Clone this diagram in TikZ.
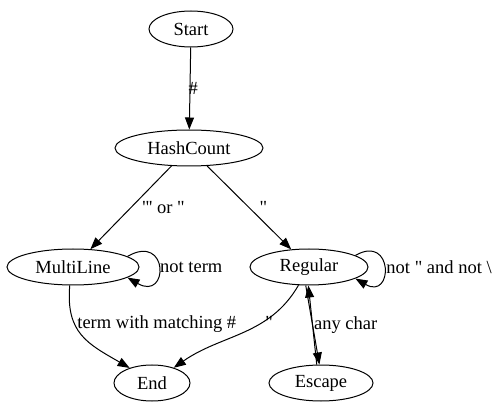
\documentclass[tikz,border=0pt]{standalone}
\usepackage{fontspec}
\setmainfont{Liberation Serif}
\usetikzlibrary{shapes.geometric, arrows.meta, positioning}
\tikzset{
  fsmnode/.style={ellipse, draw, line width=1pt, minimum height=36pt,
    inner sep=0pt, font=\fontsize{18.5}{22}\selectfont},
  arrow/.style={-{Triangle[length=12pt,width=9pt]}, line width=1pt},
  lbl/.style={font=\fontsize{18.5}{22}\selectfont, inner sep=1pt}
}

\begin{document}
\begin{tikzpicture}[x=1pt, y=1pt]
  \useasboundingbox (0,0) rectangle (496,413);
  \node[fsmnode, minimum width=84pt] (start) at (191,384) {Start};
  \node[fsmnode, minimum width=148pt] (hash) at (189,265) {HashCount};
  \node[fsmnode, minimum width=132pt] (multi) at (73,146) {MultiLine};
  \node[fsmnode, minimum width=118pt] (regular) at (309,146) {Regular};
  \node[fsmnode, minimum width=76pt] (end) at (152,30) {End};
  \node[fsmnode, minimum width=104pt] (escape) at (321,30) {Escape};

  \draw[arrow] (start) -- node[lbl, right, xshift=-3pt] {\#} (hash);
  \draw[arrow] (hash) -- node[lbl, right=10pt] {\textquotesingle\textquotesingle\textquotesingle{} or \textquotedbl} (multi);
  \draw[arrow] (hash) -- node[lbl, right=9pt] {\textquotedbl} (regular);

  \draw[arrow] (multi.11) to[out=30, in=-30, min distance=48pt] node[lbl, right] {not term} (multi.-11);
  \draw[arrow] (regular.14) to[out=30, in=-30, min distance=44pt] node[lbl, right=1pt] {not \textquotedbl{} and not \textbackslash} (regular.-14);

  \draw[arrow] (multi.-100) to[out=-95, in=150, looseness=1.2] node[lbl, pos=0.35, right=1pt] {term with matching \#} (end.146);
  \draw[arrow] (regular.-120) to[out=-120, in=35] node[lbl, pos=0.35, right=2pt] {\textquotedbl} (end.35);

  \draw[arrow] (regular.-100) -- (escape.95);
  \draw[arrow] (escape.103) -- node[lbl, right] {any char} (regular.-92);
\end{tikzpicture}
\end{document}
